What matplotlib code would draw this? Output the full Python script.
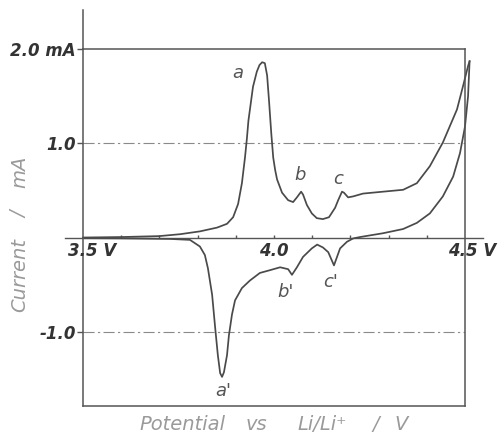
import matplotlib
matplotlib.use("Agg")
import matplotlib.pyplot as plt
from matplotlib.transforms import offset_copy

# ---- data ----
anodic_v = [3.50, 3.60, 3.70, 3.754, 3.806, 3.851, 3.877, 3.893, 3.906, 3.916, 3.924, 3.929,
            3.933, 3.940, 3.945, 3.955, 3.962, 3.969, 3.976, 3.982, 3.987, 3.993, 3.998,
            4.003, 4.008, 4.021, 4.037, 4.050, 4.060, 4.071, 4.076, 4.086, 4.099, 4.112,
            4.128, 4.144, 4.160, 4.168, 4.178, 4.183, 4.194, 4.207, 4.233, 4.285, 4.338,
            4.374, 4.408, 4.442, 4.479, 4.495, 4.508, 4.512]
anodic_i = [0.005, 0.01, 0.02, 0.04, 0.07, 0.11, 0.15, 0.22, 0.36, 0.58, 0.85, 1.05,
            1.24, 1.45, 1.60, 1.76, 1.83, 1.86, 1.85, 1.72, 1.45, 1.10, 0.85,
            0.72, 0.62, 0.48, 0.40, 0.38, 0.43, 0.49, 0.46, 0.35, 0.26, 0.21,
            0.20, 0.22, 0.32, 0.40, 0.49, 0.48, 0.43, 0.44, 0.47, 0.49, 0.51,
            0.58, 0.76, 1.01, 1.36, 1.61, 1.82, 1.87]

cathodic_v = [4.512, 4.508, 4.500, 4.487, 4.469, 4.442, 4.408, 4.374, 4.338, 4.285, 4.225,
              4.207, 4.191, 4.173, 4.165, 4.157, 4.142, 4.128, 4.113, 4.099, 4.076, 4.060,
              4.047, 4.037, 4.016, 3.990, 3.963, 3.937, 3.916, 3.898, 3.890, 3.882, 3.877,
              3.869, 3.864, 3.859, 3.853, 3.846, 3.838, 3.827, 3.819, 3.806, 3.780, 3.728,
              3.60, 3.50]
cathodic_i = [1.87, 1.50, 1.18, 0.90, 0.65, 0.44, 0.26, 0.16, 0.095, 0.05, 0.01,
              -0.005, -0.04, -0.11, -0.20, -0.29, -0.15, -0.10, -0.07, -0.11, -0.20, -0.31,
              -0.39, -0.33, -0.31, -0.34, -0.37, -0.45, -0.53, -0.66, -0.81, -1.03, -1.24,
              -1.42, -1.47, -1.43, -1.24, -0.95, -0.60, -0.32, -0.18, -0.09, -0.02, -0.01,
              -0.004, -0.002]

peak_labels = ["a", "b", "c", "a'", "b'", "c'"]
peak_label_v = [3.906, 4.068, 4.168, 3.866, 4.031, 4.149]
peak_label_i = [1.75, 0.67, 0.62, -1.62, -0.57, -0.47]

minor_ticks = [3.6, 3.7, 3.8, 3.9, 4.0, 4.1, 4.2, 4.3, 4.4]
y_ticks = [2.0, 1.0, -1.0]
y_ticklabels = ["2.0 mA", "1.0", "-1.0"]
x_labels = ["3.5 V", "4.0", "4.5 V"]
x_label_pos = [3.5, 4.0, 4.5]

xlabel_words = ["Potential", "vs", "Li/Li⁺", "/", "V"]
xlabel_center_px = [182, 256, 322, 376, 401]
ylabel_words = ["Current", "/", "mA"]
ylabel_center_px = [275, 215, 172]

# ---- figure ----
W, H = 502, 437
fig = plt.figure(figsize=(W / 100, H / 100), dpi=100)
ax = fig.add_axes([83 / W, 1 - 406 / H, (465 - 83) / W, (406 - 49) / H])
ax.set_xlim(3.5, 4.5)
ax.set_ylim(-1.778, 2.0)

line_col = "#4a4a4a"
axis_col = "#555555"
for s in ax.spines.values():
    s.set_color(axis_col)
    s.set_linewidth(1.1)

# extended left axis above the box
ax.plot([3.5, 3.5], [2.0, 2.41], color=axis_col, lw=1.1, clip_on=False)
# zero line extending beyond the box
ax.plot([3.453, 4.547], [0, 0], color=axis_col, lw=1.0, clip_on=False)
# small ticks on zero line
ax.vlines(minor_ticks, 0, 0.035, color=axis_col, lw=1.0)

# dash-dot grid lines
for g in [1.0, -1.0]:
    ax.plot([3.5, 4.5], [g, g], color="#8a8a8a", lw=0.8, ls=(0, (10, 3, 2, 3)))

# curves
ax.plot(anodic_v, anodic_i, color=line_col, lw=1.25, clip_on=False,
        solid_joinstyle="round")
ax.plot(cathodic_v, cathodic_i, color=line_col, lw=1.25, clip_on=False,
        solid_joinstyle="round")

# ticks
ax.set_xticks([])
ax.set_yticks(y_ticks)
ax.set_yticklabels(y_ticklabels, fontsize=12, fontweight="bold", style="italic",
                   color="#333333")
ax.tick_params(axis="y", direction="out", length=4, width=1.0, color=axis_col, pad=1)

# x tick labels just below zero line
offsets = [-15, 0, -17]
has = ["left", "center", "left"]
for lab, pos, off, ha in zip(x_labels, x_label_pos, offsets, has):
    tr = offset_copy(ax.transData, fig=fig, x=off, y=-4, units="dots")
    ax.text(pos, 0, lab, transform=tr, ha=ha, va="top", fontsize=12,
            fontweight="bold", style="italic", color="#333333", clip_on=False)

# peak labels
for lab, v, i in zip(peak_labels, peak_label_v, peak_label_i):
    ax.text(v, i, lab, ha="center", va="center", fontsize=13, style="italic",
            color="#555555")

# axis labels (word by word to mimic the wide lettering)
for w, px in zip(xlabel_words, xlabel_center_px):
    fig.text(px / W, 1 - 425 / H, w, ha="center", va="center", fontsize=14,
             style="italic", color="#9a9a9a")
for w, py in zip(ylabel_words, ylabel_center_px):
    fig.text(20 / W, 1 - py / H, w, ha="center", va="center", rotation=90,
             fontsize=14, style="italic", color="#9a9a9a")

fig.savefig("out.png", dpi=100)
